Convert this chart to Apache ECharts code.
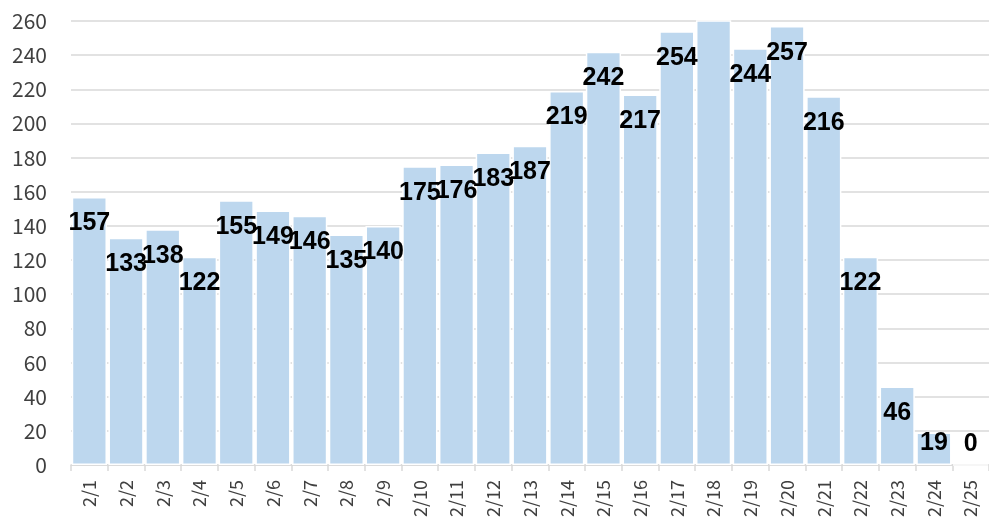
<!DOCTYPE html>
<html>
<head>
<meta charset="utf-8">
<script src="https://cdn.jsdelivr.net/npm/echarts@6/dist/echarts.min.js"></script>
<style>
    html, body { margin: 0; padding: 0; background: #fff; }
    #myEchartNode { width: 989px; height: 520px; }
</style>
</head>
<body>
<div id="myEchartNode"></div>
<script>
var days = ['2/1', '2/2', '2/3', '2/4', '2/5', '2/6', '2/7', '2/8', '2/9', '2/10',
    '2/11', '2/12', '2/13', '2/14', '2/15', '2/16', '2/17', '2/18', '2/19', '2/20',
    '2/21', '2/22', '2/23', '2/24', '2/25'];
// 2/18 goes past the top of the axis in the original, its label is not shown
var counts = [157, 133, 138, 122, 155, 149, 146, 135, 140, 175,
    176, 183, 187, 219, 242, 217, 254, 275, 244, 257,
    216, 122, 46, 19, 0];
var hiddenLabels = ['2/18'];
var yTicks = { min: 0, max: 260, step: 20 };

; (function () {
    var barData = counts.map(function (v, i) {
        var item = { value: v };
        if (hiddenLabels.indexOf(days[i]) >= 0) {
            item.label = { show: false };
        } else if (v < 27) {
            // short bars: label sits just above the axis
            item.label = { position: 'insideBottom', distance: 9 };
        }
        return item;
    });

    var myEchartObj = echarts.init(document.getElementById('myEchartNode'));
    var option = {
        backgroundColor: '#fff',
        animation: false,
        grid: {
            top: 21,
            left: 71,
            right: -7,
            bottom: 55,
            containLabel: false
        },
        xAxis: {
            type: 'category',
            data: days,
            axisLabel: {
                rotate: 90,
                interval: 0,
                margin: 15,
                color: '#404040',
                fontSize: 18,
                fontFamily: 'Noto Sans CJK JP'
            },
            axisTick: {
                show: true,
                length: 6,
                lineStyle: { color: '#d9d9d9', width: 1.5 }
            },
            axisLine: {
                lineStyle: { color: '#d9d9d9', width: 1.5 }
            }
        },
        yAxis: {
            type: 'value',
            min: yTicks.min,
            max: yTicks.max,
            interval: yTicks.step,
            axisLabel: {
                margin: 24,
                color: '#404040',
                fontSize: 21,
                fontFamily: 'Noto Sans CJK JP'
            },
            axisLine: { show: false },
            axisTick: { show: false },
            splitLine: {
                show: true,
                lineStyle: { color: '#d9d9d9', width: 1.5 }
            }
        },
        series: [
            {
                type: 'bar',
                barCategoryGap: '4%',
                clip: true,
                itemStyle: {
                    color: '#bdd7ee',
                    borderColor: '#fff',
                    borderWidth: 1.5
                },
                label: {
                    show: true,
                    position: 'insideTop',
                    distance: 14,
                    color: '#000',
                    fontSize: 25,
                    fontWeight: 'bold',
                    fontFamily: 'Liberation Sans'
                },
                data: barData
            }
        ]
    };

    myEchartObj.setOption(option);
})();
</script>
</body>
</html>
